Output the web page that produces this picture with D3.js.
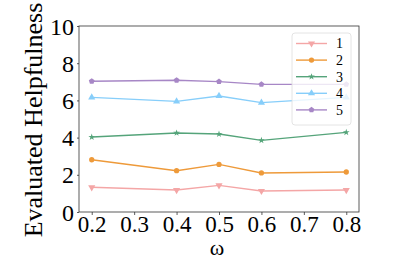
<!DOCTYPE html>
<html lang="en-US">
<head>
<meta charset="UTF-8">
<title>Evaluated Helpfulness</title>
<style>
  body { margin: 0; background: #fff; }
  svg { display: block; }
  svg text { font-family: "Liberation Serif", "DejaVu Serif", serif !important; }
  .axis path, .axis line { stroke: #333; stroke-width: 0.8px; }
  .axis text { fill: #000; }
</style>
</head>
<body>
<div id="viz"></div>
<script src="https://d3js.org/d3.v7.min.js"></script>
<script>
var omega = [0.2, 0.4, 0.5, 0.6, 0.8];
var xTicks = [0.2, 0.3, 0.4, 0.5, 0.6, 0.7, 0.8];
var yTicks = [0, 2, 4, 6, 8, 10];
var seriesNames = ["1", "2", "3", "4", "5"];
var s1 = [1.33, 1.18, 1.43, 1.13, 1.18];
var s2 = [2.81, 2.22, 2.56, 2.10, 2.15];
var s3 = [4.03, 4.25, 4.19, 3.85, 4.28];
var s4 = [6.16, 5.95, 6.24, 5.88, 6.16];
var s5 = [7.03, 7.08, 7.01, 6.86, 6.86];

var colors = ["#f4a6a6", "#ee9a3a", "#55a47a", "#87cefa", "#a787c6"];
var symbols = ["tridown", "circle", "star", "triangle", "pentagon"];
var allSeries = [s1, s2, s3, s4, s5];

var width = 399, height = 266;
var margin = {left: 79, right: 40, top: 26, bottom: 54};

var svg = d3.select("#viz").append("svg")
    .attr("width", width)
    .attr("height", height);

var x = d3.scaleLinear().domain([0.17, 0.83]).range([margin.left, width - margin.right]);
var y = d3.scaleLinear().domain([0, 10]).range([height - margin.bottom, margin.top]);

// frame
svg.append("rect")
    .attr("x", margin.left).attr("y", margin.top)
    .attr("width", width - margin.left - margin.right)
    .attr("height", height - margin.top - margin.bottom)
    .attr("fill", "none").attr("stroke", "#333").attr("stroke-width", 0.8);

var xAxis = svg.append("g").attr("class", "axis")
    .attr("transform", "translate(0," + (height - margin.bottom) + ")")
    .call(d3.axisBottom(x).tickValues(xTicks).tickSize(3).tickPadding(1).tickFormat(d3.format(".1f")));
xAxis.selectAll("text").style("font-size", "23px");
xAxis.select(".domain").remove();

var yAxis = svg.append("g").attr("class", "axis")
    .attr("transform", "translate(" + margin.left + ",0)")
    .call(d3.axisLeft(y).tickValues(yTicks).tickSize(2).tickPadding(3));
yAxis.selectAll("text").style("font-size", "24px").attr("dy", "0.34em");
yAxis.select(".domain").remove();

svg.append("text")
    .attr("transform", "translate(42,120) rotate(-90)")
    .attr("text-anchor", "middle")
    .style("font-size", "26px")
    .text("Evaluated Helpfulness");

svg.append("text")
    .attr("x", 217)
    .attr("y", 255)
    .attr("text-anchor", "middle")
    .style("font-size", "22px")
    .text("ω");

function markerPath(kind, size) {
  if (kind === "circle") return d3.symbol(d3.symbolCircle, size)();
  if (kind === "star") return d3.symbol(d3.symbolStar, size)();
  if (kind === "triangle") return d3.symbol(d3.symbolTriangle, size)();
  if (kind === "tridown") return d3.symbol(d3.symbolTriangle, size)();
  // pentagon
  var r = Math.sqrt(size / 2.38), pts = [];
  for (var i = 0; i < 5; i++) {
    var a = -Math.PI / 2 + i * 2 * Math.PI / 5;
    pts.push([r * Math.cos(a), r * Math.sin(a)]);
  }
  return "M" + pts.join("L") + "Z";
}

var line = d3.line()
    .x(function(d, i) { return x(omega[i]); })
    .y(function(d) { return y(d); });

allSeries.forEach(function(vals, k) {
  var g = svg.append("g");
  g.append("path")
      .datum(vals)
      .attr("d", line)
      .attr("fill", "none")
      .attr("stroke", colors[k])
      .attr("stroke-width", 1.4);
  g.selectAll("path.m")
      .data(vals)
      .enter().append("path")
      .attr("class", "m")
      .attr("d", markerPath(symbols[k], k === 2 ? 14 : 22))
      .attr("transform", function(d, i) {
        return "translate(" + x(omega[i]) + "," + y(d) + ")" + (symbols[k] === "tridown" ? " rotate(180)" : "");
      })
      .attr("fill", colors[k]);
});

// legend
var lg = svg.append("g").attr("transform", "translate(292,33)");
lg.append("rect")
    .attr("width", 59).attr("height", 92)
    .attr("rx", 3)
    .attr("fill", "#fff").attr("fill-opacity", 0.8)
    .attr("stroke", "#ddd").attr("stroke-width", 0.8);
seriesNames.forEach(function(name, k) {
  var yy = 10.5 + k * 16.6;
  lg.append("line")
      .attr("x1", 4).attr("x2", 35).attr("y1", yy).attr("y2", yy)
      .attr("stroke", colors[k]).attr("stroke-width", 1.4);
  lg.append("path")
      .attr("d", markerPath(symbols[k], k === 2 ? 14 : 22))
      .attr("transform", "translate(19.5," + yy + ")" + (symbols[k] === "tridown" ? " rotate(180)" : ""))
      .attr("fill", colors[k]);
  lg.append("text")
      .attr("x", 44).attr("y", yy).attr("dy", "0.35em")
      .style("font-size", "14px")
      .text(name);
});
</script>
</body>
</html>
